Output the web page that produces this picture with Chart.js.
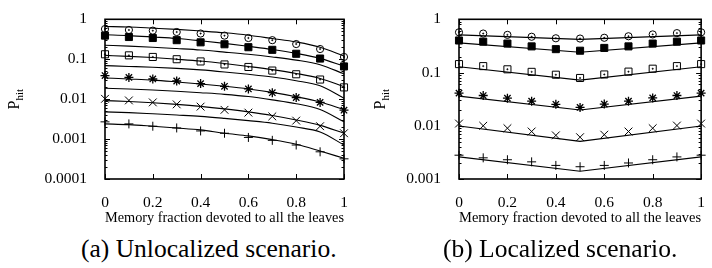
<!DOCTYPE html>
<html>
<head>
<meta charset="utf-8">
<script src="https://cdn.jsdelivr.net/npm/chart.js@4.4.1/dist/chart.umd.min.js"></script>
<style>
body { margin:0; background:#fff; width:712px; height:268px; position:relative; overflow:hidden; font-family:'Liberation Serif', 'Times New Roman', serif; }
canvas { position:absolute; top:0; }
.cap { position:absolute; top:236px; font-size:25.5px; line-height:26px; white-space:nowrap; color:#000; }
</style>
</head>
<body>
<canvas id="chartA" width="360" height="232" style="left:0"></canvas>
<canvas id="chartB" width="356" height="232" style="left:356px"></canvas>
<div class="cap" style="left:81px">(a) Unlocalized scenario.</div>
<div class="cap" style="left:443px">(b) Localized scenario.</div>
<script>
// x positions (memory fraction) and tick labels
var memFrac = [0, 0.1, 0.2, 0.3, 0.4, 0.5, 0.6, 0.7, 0.8, 0.9, 1];
var xTicks = [0, 0.2, 0.4, 0.6, 0.8, 1];
var xTickLabels = ['0', '0.2', '0.4', '0.6', '0.8', '1'];
var yTicksA = [0.0001, 0.001, 0.01, 0.1, 1];
var yTickLabelsA = ['0.0001', '0.001', '0.01', '0.1', '1'];
var yTicksB = [0.001, 0.01, 0.1, 1];
var yTickLabelsB = ['0.001', '0.01', '0.1', '1'];
var xTitle = 'Memory fraction devoted to all the leaves';

// (a) unlocalized - model curves (10 of them)
var unlocLine1 = [0.66, 0.64, 0.60, 0.56, 0.51, 0.46, 0.40, 0.33, 0.27, 0.20, 0.12];
var unlocLine2 = [0.41, 0.39, 0.36, 0.33, 0.29, 0.25, 0.21, 0.175, 0.14, 0.105, 0.067];
var unlocLine3 = [0.224, 0.213, 0.2, 0.185, 0.17, 0.151, 0.133, 0.114, 0.095, 0.073, 0.043];
var unlocLine4 = [0.125, 0.118, 0.11, 0.1, 0.09, 0.078, 0.066, 0.055, 0.044, 0.033, 0.0205];
var unlocLine5 = [0.069, 0.066, 0.063, 0.059, 0.054, 0.048, 0.042, 0.036, 0.029, 0.0216, 0.0106];
var unlocLine6 = [0.034, 0.032, 0.03, 0.027, 0.024, 0.021, 0.018, 0.0148, 0.0115, 0.0085, 0.0055];
var unlocLine7 = [0.0187, 0.018, 0.017, 0.0158, 0.0145, 0.0132, 0.0116, 0.0096, 0.0077, 0.0055, 0.0027];
var unlocLine8 = [0.0092, 0.0087, 0.0081, 0.0074, 0.0066, 0.0057, 0.0048, 0.0039, 0.0030, 0.0022, 0.0014];
var unlocLine9 = [0.0048, 0.0046, 0.0043, 0.0040, 0.0037, 0.0033, 0.0029, 0.0025, 0.0020, 0.0015, 0.00071];
var unlocLine10 = [0.0024, 0.0023, 0.0021, 0.0019, 0.0017, 0.0014, 0.0012, 0.00097, 0.00074, 0.0005, 0.00033];
// (a) simulation points
var unlocCircle = [0.57, 0.54, 0.52, 0.48, 0.44, 0.39, 0.34, 0.30, 0.24, 0.18, 0.114];
var unlocFilledSq = [0.39, 0.36, 0.34, 0.30, 0.265, 0.237, 0.2, 0.172, 0.137, 0.104, 0.066];
var unlocOpenSq = [0.133, 0.125, 0.114, 0.1, 0.088, 0.074, 0.064, 0.052, 0.042, 0.031, 0.0197];
var unlocStar = [0.039, 0.035, 0.032, 0.0285, 0.0245, 0.021, 0.018, 0.0145, 0.011, 0.0083, 0.0053];
var unlocCross = [0.0102, 0.0093, 0.0083, 0.0074, 0.0065, 0.0054, 0.0046, 0.0037, 0.0029, 0.0021, 0.0014];
var unlocPlus = [0.0027, 0.0024, 0.0021, 0.0019, 0.0016, 0.0014, 0.0011, 0.00093, 0.00071, 0.00048, 0.00032];

// (b) localized - model lines are straight, read at 0, 0.5 and 1
var locLineX = [0, 0.5, 1];
var locLine1 = [0.51, 0.42, 0.51];
var locLine2 = [0.36, 0.24, 0.36];
var locLine3 = [0.128, 0.072, 0.128];
var locLine4 = [0.036, 0.0198, 0.036];
var locLine5 = [0.0099, 0.0051, 0.0099];
var locLine6 = [0.0026, 0.0014, 0.0026];
// (b) simulation points
var locCircle = [0.57, 0.54, 0.51, 0.47, 0.44, 0.435, 0.45, 0.48, 0.52, 0.55, 0.57];
var locFilledSq = [0.4, 0.38, 0.35, 0.31, 0.275, 0.257, 0.29, 0.31, 0.35, 0.38, 0.4];
var locOpenSq = [0.144, 0.132, 0.115, 0.103, 0.091, 0.079, 0.092, 0.104, 0.118, 0.132, 0.144];
var locStar = [0.041, 0.037, 0.033, 0.029, 0.0253, 0.0221, 0.0256, 0.029, 0.0334, 0.037, 0.041];
var locCross = [0.011, 0.0100, 0.009, 0.0078, 0.0066, 0.0061, 0.0068, 0.0078, 0.009, 0.0101, 0.011];
var locPlus = [0.0028, 0.0025, 0.0023, 0.0021, 0.0018, 0.0017, 0.0018, 0.002, 0.0023, 0.0026, 0.0028];

Chart.defaults.font.family = "'Liberation Serif', 'Times New Roman', serif";
Chart.defaults.font.size = 15.5;
Chart.defaults.color = '#000';

function pts(xv, yv) { // pair up x and y arrays
  return yv.map(function(y, i) { return {x: xv[i], y: y}; });
}

function lineSet(xv, yv, smooth) {
  return { data: pts(xv, yv), borderColor: '#000', borderWidth: 1.1, pointRadius: 0,
    fill: false, clip: false, cubicInterpolationMode: smooth ? 'monotone' : 'default', order: 2 };
}

function markSet(yv, style, r, filled, bw) {
  return { data: pts(memFrac, yv), showLine: false, pointStyle: style, pointRadius: r,
    pointBorderColor: '#000', pointBackgroundColor: filled ? '#000' : 'rgba(0,0,0,0)',
    pointBorderWidth: bw || 1, clip: false, order: 1 };
}

function dotSet(yv) { // little dot in the middle of circle / square marks
  return markSet(yv, 'circle', 0.7, true, 0.5);
}

// frame, inward ticks (incl. log minor ticks) and P_hit label
var framePlugin = {
  id: 'frame',
  afterDraw: function(chart) {
    var ctx = chart.ctx, a = chart.chartArea;
    var xs = chart.scales.x, ys = chart.scales.y;
    ctx.save();
    ctx.strokeStyle = '#000';
    ctx.lineWidth = 1;
    ctx.beginPath();
    xs.ticks.forEach(function(t) {
      var px = Math.round(xs.getPixelForValue(t.value)) + 0.5;
      ctx.moveTo(px, a.bottom); ctx.lineTo(px, a.bottom - 5);
      ctx.moveTo(px, a.top); ctx.lineTo(px, a.top + 5);
    });
    var e0 = Math.round(Math.log10(ys.min)), e1 = Math.round(Math.log10(ys.max));
    for (var e = e0; e <= e1; e++) {
      for (var k = 1; k <= 9; k++) {
        var v = k * Math.pow(10, e);
        if (v > ys.max * 1.0001) break;
        var py = Math.round(ys.getPixelForValue(v)) + 0.5;
        var len = k == 1 ? 5 : 2.5;
        ctx.moveTo(a.left, py); ctx.lineTo(a.left + len, py);
        ctx.moveTo(a.right, py); ctx.lineTo(a.right - len, py);
      }
    }
    ctx.stroke();
    ctx.lineWidth = 1.6;
    ctx.strokeRect(a.left, a.top, a.right - a.left, a.bottom - a.top);
    // rotated P_hit
    ctx.translate(chart.options.ytitleX, (a.top + a.bottom) / 2);
    ctx.rotate(-Math.PI / 2);
    ctx.fillStyle = '#000';
    ctx.textBaseline = 'alphabetic';
    ctx.font = "16px 'Liberation Serif', serif";
    var wP = ctx.measureText('P').width;
    ctx.font = "11px 'Liberation Serif', serif";
    var wS = ctx.measureText('hit').width;
    var x0 = -(wP + wS) / 2;
    ctx.font = "16px 'Liberation Serif', serif";
    ctx.fillText('P', x0, 5);
    ctx.font = "11px 'Liberation Serif', serif";
    ctx.fillText('hit', x0 + wP, 9);
    ctx.restore();
  }
};

function makeOptions(yMin, yMax, yT, yL, yWidth, padRight) {
  return {
    responsive: false,
    animation: false,
    ytitleX: 14,
    layout: { padding: { left: 0, right: padRight, top: 14, bottom: 0 } },
    plugins: { legend: { display: false }, tooltip: { enabled: false } },
    scales: {
      x: {
        type: 'linear', min: 0, max: 1,
        grid: { display: false }, border: { display: false },
        afterBuildTicks: function(s) { s.ticks = xTicks.map(function(v) { return {value: v}; }); },
        afterFit: function(s) { s.height = 53; },
        ticks: { padding: 7, autoSkip: false, maxRotation: 0,
          callback: function(v, i) { return xTickLabels[i]; } },
        title: { display: true, text: xTitle, padding: { top: 0, bottom: 5 } }
      },
      y: {
        type: 'logarithmic', min: yMin, max: yMax,
        grid: { display: false }, border: { display: false },
        afterBuildTicks: function(s) { s.ticks = yT.map(function(v) { return {value: v}; }); },
        afterFit: function(s) { s.width = yWidth; },
        ticks: { padding: 10, autoSkip: false,
          callback: function(v, i) { return yL[i]; } }
      }
    }
  };
}

new Chart(document.getElementById('chartA'), {
  type: 'line',
  data: { datasets: [
    lineSet(memFrac, unlocLine1, true), lineSet(memFrac, unlocLine2, true),
    lineSet(memFrac, unlocLine3, true), lineSet(memFrac, unlocLine4, true),
    lineSet(memFrac, unlocLine5, true), lineSet(memFrac, unlocLine6, true),
    lineSet(memFrac, unlocLine7, true), lineSet(memFrac, unlocLine8, true),
    lineSet(memFrac, unlocLine9, true), lineSet(memFrac, unlocLine10, true),
    markSet(unlocCircle, 'circle', 3.6, false), dotSet(unlocCircle),
    markSet(unlocFilledSq, 'rect', 5, true),
    markSet(unlocOpenSq, 'rect', 5, false), dotSet(unlocOpenSq),
    markSet(unlocStar, 'star', 4.5, false, 1.3),
    markSet(unlocCross, 'crossRot', 5.5, false),
    markSet(unlocPlus, 'cross', 4.5, false)
  ] },
  options: makeOptions(0.0001, 1, yTicksA, yTickLabelsA, 105, 16),
  plugins: [framePlugin]
});

new Chart(document.getElementById('chartB'), {
  type: 'line',
  data: { datasets: [
    lineSet(locLineX, locLine1), lineSet(locLineX, locLine2),
    lineSet(locLineX, locLine3), lineSet(locLineX, locLine4),
    lineSet(locLineX, locLine5), lineSet(locLineX, locLine6),
    markSet(locCircle, 'circle', 3.6, false), dotSet(locCircle),
    markSet(locFilledSq, 'rect', 5, true),
    markSet(locOpenSq, 'rect', 5, false), dotSet(locOpenSq),
    markSet(locStar, 'star', 4.5, false, 1.3),
    markSet(locCross, 'crossRot', 5.5, false),
    markSet(locPlus, 'cross', 4.5, false)
  ] },
  options: Object.assign(makeOptions(0.001, 1, yTicksB, yTickLabelsB, 103, 5), { ytitleX: 24 }),
  plugins: [framePlugin]
});
</script>
</body>
</html>
